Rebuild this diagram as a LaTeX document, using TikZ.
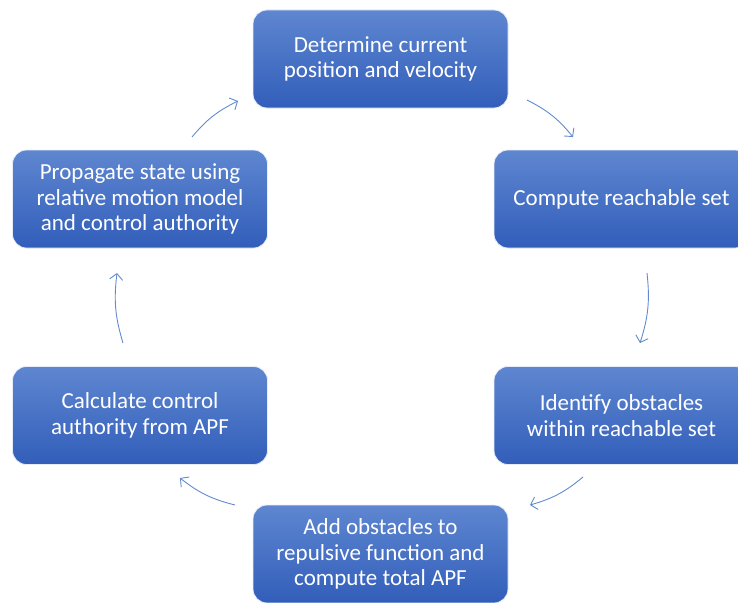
\documentclass[tikz,border=0pt]{standalone}
\usepackage{fontspec}
\setmainfont{Carlito}
\usetikzlibrary{arrows.meta}
\definecolor{boxTop}{RGB}{94,134,208}
\definecolor{boxBot}{RGB}{50,94,186}
\definecolor{arrowBlue}{RGB}{98,138,208}

\begin{document}
\begin{tikzpicture}[
    x=1pt, y=-1pt,
    font=\fontsize{23}{25.5}\selectfont,
    step box/.style={rectangle, rounded corners=14pt, draw=white!85!boxTop, line width=0.8pt, top color=boxTop, bottom color=boxBot, text=white, align=center, minimum width=255pt, minimum height=98pt, inner sep=4pt},
    cyc/.style={draw=arrowBlue, line width=0.9pt, -{Straight Barb[length=6pt, width=13pt]}, bend left=12}
]
    \useasboundingbox (0,0) rectangle (738,602);

    \node[step box] (pos) at (380.5, 59) {Determine current \\ position and velocity};
    \node[step box] (reach) at (621.5, 199) {Compute reachable set};
    \node[step box] (obst) at (621.5, 415.5) {Identify obstacles \\ within reachable set};
    \node[step box] (apf) at (380.5, 554) {Add obstacles to \\ repulsive function and \\ compute total APF};
    \node[step box] (ctrl) at (140, 415.5) {Calculate control \\ authority from APF};
    \node[step box] (prop) at (140, 199) {Propagate state using \\ relative motion model \\ and control authority};

    \coordinate (c1s) at (527, 100);  \coordinate (c1e) at (573, 137);
    \coordinate (c2s) at (647, 273);  \coordinate (c2e) at (640, 343);
    \coordinate (c3s) at (583, 477);  \coordinate (c3e) at (530, 505);
    \coordinate (c4s) at (235, 505);  \coordinate (c4e) at (180, 478);
    \coordinate (c5s) at (123, 343);  \coordinate (c5e) at (117, 273);
    \coordinate (c6s) at (192, 137);  \coordinate (c6e) at (238, 101);

    \draw[cyc] (c1s) to (c1e);
    \draw[cyc] (c2s) to (c2e);
    \draw[cyc] (c3s) to (c3e);
    \draw[cyc] (c4s) to (c4e);
    \draw[cyc] (c5s) to (c5e);
    \draw[cyc] (c6s) to (c6e);
\end{tikzpicture}
\end{document}
